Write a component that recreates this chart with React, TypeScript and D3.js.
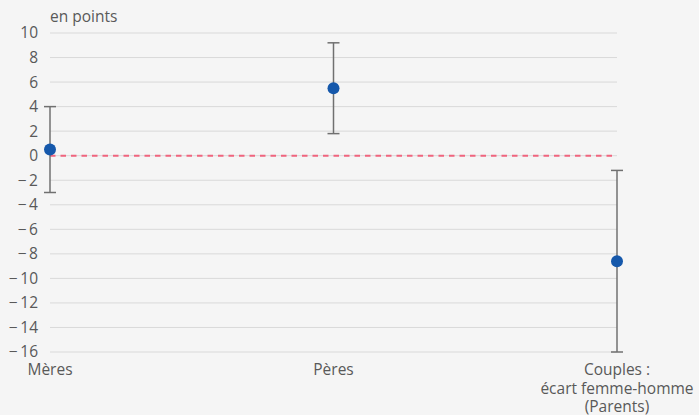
import React from "react";
import * as d3 from "d3";

const categories = ["Mères", "Pères", "Couples :|écart femme-homme|(Parents)"];
const values = [0.5, 5.5, -8.6];
const lowers = [-3.0, 1.8, -16.0];
const uppers = [4.0, 9.2, -1.2];
const yTicks = [10, 8, 6, 4, 2, 0, -2, -4, -6, -8, -10, -12, -14, -16];

const W = 699;
const H = 415;

export default function App() {
  const x = d3.scalePoint<string>().domain(categories).range([50, 617]);
  const y = d3.scaleLinear().domain([-16, 10]).range([352, 33]);
  const fmt = (v: number) => (v < 0 ? "\u2212\u2009" + Math.abs(v) : String(v));
  const font = "'Open Sans', 'Noto Sans', sans-serif";
  const fs = 15.5;
  return (
    <svg
      width={W}
      height={H}
      style={{ position: "absolute", left: 0, top: 0, display: "block" }}
      fontFamily={font}
    >
      <rect width={W} height={H} fill="#f5f5f5" />
      {yTicks.map((t) => (
        <g key={t}>
          <line x1={50} x2={617} y1={y(t)} y2={y(t)} stroke="#d9d9d9" strokeWidth={1} />
          <text x={38} y={y(t)} dy="0.35em" textAnchor="end" fontSize={fs} fill="#595959">
            {fmt(t)}
          </text>
        </g>
      ))}
      <text x={50} y={22} fontSize={fs} fill="#595959">en points</text>
      <line x1={50} x2={617} y1={y(0)} y2={y(0)} stroke="#f0647e" strokeWidth={2} strokeDasharray="5.5,5" />
      {categories.map((c, i) => {
        const cx = x(c)!;
        return (
          <g key={c}>
            <line x1={cx} x2={cx} y1={y(uppers[i])} y2={y(lowers[i])} stroke="#707070" strokeWidth={1.5} />
            <line x1={cx - 6} x2={cx + 6} y1={y(uppers[i])} y2={y(uppers[i])} stroke="#707070" strokeWidth={1.5} />
            <line x1={cx - 6} x2={cx + 6} y1={y(lowers[i])} y2={y(lowers[i])} stroke="#707070" strokeWidth={1.5} />
            <circle cx={cx} cy={y(values[i])} r={6} fill="#1558ab" />
            {c.split("|").map((line, j) => (
              <text key={j} x={cx} y={375 + j * 18.5} textAnchor="middle" fontSize={fs} fill="#595959">
                {line}
              </text>
            ))}
          </g>
        );
      })}
    </svg>
  );
}
